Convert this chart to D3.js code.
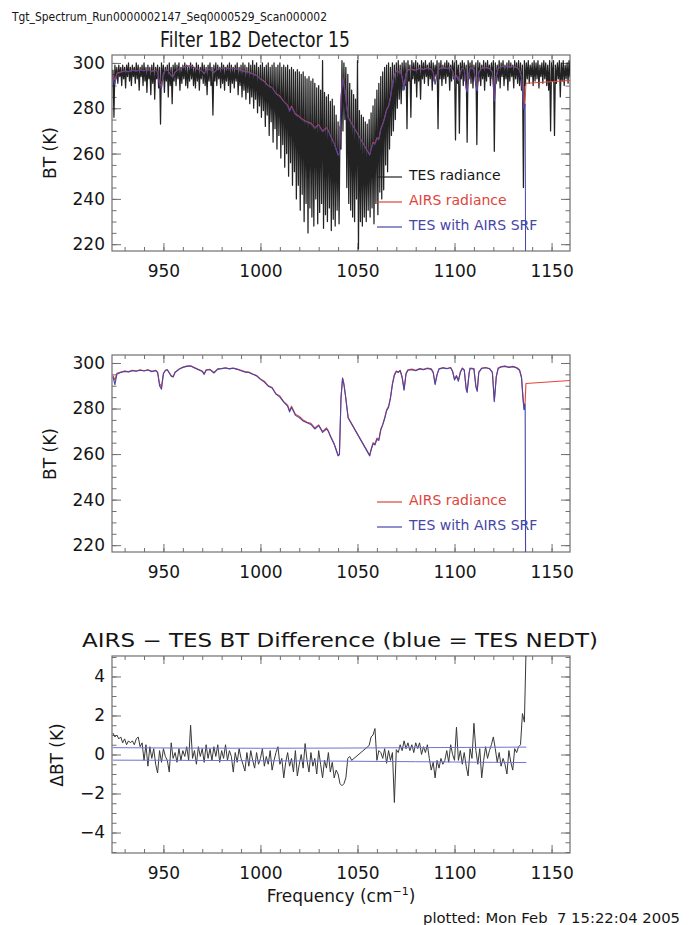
<!DOCTYPE html>
<html>
<head>
<meta charset="utf-8">
<script src="https://cdn.jsdelivr.net/npm/d3@7"></script>
<style>
  body { margin: 0; background: #fff; }
  text { font-family: "DejaVu Sans", sans-serif; fill: #151515; }
</style>
</head>
<body>
<svg id="chart"></svg>
<script>
// ---- data ----
// TES radiance (panel 1): upper / lower envelope per 1 cm-1 bin, starting at 924
let tesStart = 924;
let tesHi = [
  297, 299, 298, 299, 298, 299, 298, 299, 300, 298,
  299, 298, 300, 299, 298, 299, 300, 298, 299, 298,
  299, 300, 298, 299, 298, 300, 299, 298, 299, 300,
  298, 299, 300, 299, 300, 298, 299, 300, 299, 298,
  300, 299, 298, 300, 299, 298, 300, 299, 298, 299,
  300, 298, 299, 300, 299, 298, 300, 299, 298, 299,
  300, 299, 298, 299, 300, 298, 299, 300, 299, 298,
  300, 299, 301, 299, 300, 298, 299, 300, 298, 299,
  300, 298, 299, 300, 298, 299, 300, 298, 299, 298,
  299, 297, 298, 297, 296, 297, 296, 295, 296, 294,
  293, 294, 292, 293, 291, 289, 290, 288, 301, 287,
  285, 286, 283, 284, 281, 277, 274, 272, 301, 300,
  298, 295, 291, 288, 286, 284, 301, 279, 277, 276,
  274, 273, 275, 278, 281, 284, 288, 291, 294, 296,
  298, 299, 300, 298, 300, 299, 300, 301, 299, 300,
  301, 300, 301, 299, 301, 300, 301, 300, 299, 301,
  300, 301, 299, 300, 301, 300, 299, 301, 300, 301,
  299, 300, 301, 300, 299, 301, 300, 301, 299, 300,
  301, 300, 299, 301, 300, 301, 299, 300, 301, 300,
  299, 301, 300, 301, 299, 300, 301, 300, 299, 301,
  300, 301, 299, 300, 301, 300, 299, 301, 300, 301,
  300, 299, 301, 300, 301, 299, 300, 301, 300, 301,
  299, 300, 301, 300, 299, 301, 300, 301, 299, 300,
  301, 300, 301, 299, 300, 301, 300
];
let tesLo = [
  276, 293, 291, 294, 290, 293, 289, 294, 292, 290,
  294, 291, 293, 288, 294, 290, 292, 287, 293, 286,
  291, 284, 293, 289, 273, 292, 287, 292, 285, 290,
  282, 292, 290, 293, 288, 291, 293, 290, 289, 292,
  293, 290, 289, 292, 288, 293, 291, 290, 286, 292,
  290, 277, 292, 290, 293, 289, 291, 288, 292, 290,
  287, 291, 289, 292, 286, 290, 285, 288, 284, 287,
  282, 285, 280, 284, 278, 281, 276, 279, 272, 277,
  268, 274, 265, 271, 262, 268, 258, 264, 254, 260,
  250, 256, 246, 252, 240, 246, 235, 242, 230, 238,
  225, 236, 232, 228, 240, 229, 234, 238, 227, 233,
  230, 236, 226, 231, 228, 235, 229, 262, 270, 275,
  245, 238, 235, 232, 230, 240, 218, 230, 228, 232,
  230, 235, 232, 236, 229, 238, 233, 243, 240, 244,
  255, 252, 262, 268, 270, 275, 280, 284, 282, 288,
  290, 271, 292, 276, 293, 291, 285, 292, 284, 293,
  291, 294, 290, 293, 288, 292, 294, 271, 293, 290,
  293, 291, 294, 288, 292, 293, 266, 291, 269, 293,
  290, 292, 265, 293, 291, 289, 294, 264, 292, 290,
  293, 288, 292, 294, 290, 293, 261, 291, 292, 289,
  294, 290, 293, 288, 292, 294, 289, 293, 291, 290,
  288, 245, 290, 293, 291, 294, 290, 292, 293, 289,
  294, 291, 293, 290, 288, 270, 292, 268, 291, 293,
  285, 292, 290, 293, 291, 294, 292
];

// AIRS radiance and TES convolved with AIRS SRF (panels 1 and 2)
let airsFreq = [
  924, 925, 926, 928, 930, 932, 934, 936, 938, 940,
  942, 944, 946, 947, 948, 949, 950, 951, 952, 954,
  955, 956, 958, 960, 962, 964, 966, 968, 970, 971,
  972, 974, 976, 978, 980, 982, 984, 986, 988, 990,
  992, 994, 996, 998, 1000, 1002, 1004, 1006, 1008, 1010,
  1012, 1014, 1015, 1016, 1018, 1020, 1022, 1024, 1026, 1028,
  1030, 1032, 1034, 1035, 1036, 1038, 1039, 1040, 1040.7, 1041.5,
  1042.3, 1043, 1043.8, 1044.5, 1045.2, 1056.3, 1057, 1058, 1059, 1060,
  1061, 1062, 1063, 1064, 1065, 1066, 1067, 1068, 1069, 1070,
  1071, 1072, 1073, 1074, 1075, 1076, 1078, 1080, 1082, 1084,
  1086, 1088, 1089, 1090, 1091, 1092, 1094, 1096, 1098, 1099,
  1100, 1101, 1102, 1103, 1104, 1105, 1106, 1106.5, 1107.5, 1108,
  1110, 1111, 1111.7, 1112.5, 1114, 1116, 1118, 1119.5, 1120.5, 1121.5,
  1122.5, 1124, 1126, 1128, 1130, 1132, 1133.5, 1134.5, 1135.3, 1135.8,
  1136.4, 1136.8, 1160
];
let airsBT = [
  294.5, 292.5, 295.5, 296.0, 296.5, 296.2, 296.8, 296.5, 297.0, 296.6,
  297.0, 296.4, 296.8, 296.0, 291.0, 289.5, 295.5, 296.8, 297.0, 294.5,
  294.0, 296.0, 297.3, 298.2, 298.6, 298.8, 298.0, 297.2, 296.5, 295.2,
  297.0, 297.2, 295.8, 297.4, 297.6, 297.9, 297.5, 297.8, 297.3, 296.8,
  296.2, 296.0, 295.2, 294.5, 293.0, 292.0, 290.0, 289.2, 286.5, 285.5,
  283.0, 281.5, 279.0, 281.0, 277.5, 276.5, 275.0, 274.0, 273.5, 271.5,
  272.8, 270.0, 271.5, 270.2, 268.0, 264.5, 262.0, 259.5, 260.0, 285.0,
  293.5, 291.0, 286.0, 281.0, 276.0, 259.5, 262.0, 265.0, 264.5, 267.0,
  266.5, 271.0, 273.0, 276.0, 279.5, 281.0, 285.0, 291.0, 295.0, 296.5,
  296.0, 296.8, 294.0, 288.5, 295.5, 297.0, 297.3, 296.8, 297.6, 297.2,
  297.8, 297.4, 296.0, 291.0, 295.0, 297.5, 298.0, 297.6, 298.0, 296.5,
  293.0, 294.5, 292.5, 296.0, 297.8, 297.0, 289.0, 287.5, 295.5, 297.8,
  297.5, 290.0, 288.0, 296.0, 297.8, 298.0, 297.6, 296.0, 283.5, 294.0,
  297.8, 298.4, 298.6, 298.2, 298.5, 298.0, 297.0, 294.0, 285.0, 280.0,
  283.0, 291.0, 292.3
];
let srfBT = [
  294.0, 290.5, 295.0, 295.8, 296.3, 296.0, 296.6, 296.4, 296.8, 296.5,
  296.9, 296.2, 296.6, 295.8, 290.0, 288.5, 295.3, 296.7, 297.0, 294.2,
  293.8, 295.8, 297.2, 298.0, 298.5, 298.7, 297.8, 297.0, 296.3, 295.0,
  296.8, 297.1, 295.6, 297.3, 297.5, 297.8, 297.4, 297.7, 297.2, 296.6,
  296.0, 295.8, 295.0, 294.3, 292.8, 291.6, 289.8, 289.0, 286.3, 285.0,
  282.8, 281.0, 278.5, 280.5, 277.0, 276.0, 274.5, 273.8, 273.0, 271.0,
  272.5, 269.5, 271.0, 270.0, 267.8, 264.3, 261.8, 259.2, 259.8, 284.5,
  293.2, 290.5, 285.5, 280.5, 275.8, 259.2, 261.8, 264.5, 264.0, 266.5,
  266.0, 270.5, 272.8, 275.5, 279.0, 280.5, 284.5, 290.5, 294.5, 296.3,
  295.8, 296.6, 293.5, 288.0, 295.2, 296.8, 297.0, 296.6, 297.4, 297.0,
  297.6, 297.2, 295.8, 290.5, 294.8, 297.3, 297.8, 297.5, 297.9, 296.2,
  292.5, 294.2, 292.0, 295.8, 297.6, 296.8, 288.5, 287.0, 295.2, 297.6,
  297.3, 289.5, 287.5, 295.8, 297.6, 297.9, 297.5, 295.8, 283.0, 293.8,
  297.6, 298.2, 298.5, 298.0, 298.4, 297.8, 296.8, 293.5, 284.0, 279.5,
  282.0, 150, null
];

// AIRS - TES BT difference (panel 3), 1 cm-1 steps, two runs with a gap
let diffStartA = 924;
let diffA = [
  1.1, 0.9, 1.0, 0.8, 0.9, 0.6, 0.8, 0.5, 0.7, 0.6,
  0.7, 0.5, 0.8, 0.9, 0.4, 0.6, -0.3, 0.5, -0.6, 0.4,
  -0.2, 0.3, -0.5, -0.95, 0.2, -0.4, 0.3, -0.1, -0.3, -0.9,
  0.6, -0.2, 0.1, -0.4, 0.3, -0.3, 0.2, -0.1, 0.4, -0.3,
  1.5, -0.2, 0.2, -0.5, 0.4, -0.1, 0.3, -0.4, 0.5, -0.2,
  0.3, -0.3, 0.4, -0.1, 0.5, -0.4, 0.2, -0.2, 0.5, -0.3,
  0.2, -0.1, -0.9, 0.1, -0.4, 0.3, -0.2, -0.5, -0.85, 0.1,
  -0.6, 0.2, -0.3, -0.7, 0.1, -0.5, -0.2, 0.3, -0.6, -0.1,
  -0.5, 0.2, -0.8, -0.3, 0.1, 0.4, -0.5, -0.2, -1.2, -0.4,
  0.1, -0.6, -0.2, -0.9, 0.2, -1.1, -0.5, 0.0, -0.7, 0.56,
  -0.3, -0.9, 0.1, -0.6, -0.2, -1.0, 0.2, -0.5, -1.2, -0.3,
  -0.7, 0.1, -0.9, -0.4, -1.2, -0.8, -1.0, -1.5, -1.6, -1.5,
  -1.2, -0.2, -0.1, -0.3
];
let diffStartB = 1056;
let diffB = [
  0.46, 0.9, 1.0, 1.33, -0.3, 0.2, 0.1, -0.2, 0.3, -0.45,
  0.2, -0.3, 0.1, -2.46, 0.25, 0.1, 0.5, 0.2, 0.7, 0.3,
  0.6, 0.2, 0.5, 0.1, 0.6, 0.3, 0.6, 0.0, 0.4, 0.1,
  0.5, -0.2, -0.8, -0.4, -1.2, -0.3, -0.7, -0.2, -0.5, -0.3,
  0.2, -0.4, 0.5, 0.0, -0.3, 1.4, -0.3, 0.2, -0.5, 0.1,
  -0.6, -1.1, 0.3, -0.2, 1.6, 0.2, -0.5, 0.3, -1.2, -0.3,
  0.4, -0.2, 0.2, 0.5, 0.9, 0.3, -0.4, 0.1, -0.6, -0.2,
  -0.5, -1.0, 0.2, -0.4, -0.8, 0.3, 0.1, 0.4, 0.5, 2.1,
  1.66, 6
];

// TES NEDT (+/-), blue lines in panel 3
let nedtFreq = [924, 960, 1000, 1040, 1080, 1120, 1137];
let nedtUp = [0.35, 0.33, 0.32, 0.33, 0.35, 0.37, 0.38];
let nedtDown = [-0.29, -0.3, -0.32, -0.34, -0.37, -0.4, -0.41];

// tick values
let xMajor = [950, 1000, 1050, 1100, 1150];
let xMinor = d3.range(930, 1160, 10);
let btMajor = [220, 240, 260, 280, 300];
let btMinor = d3.range(220, 301, 5);
let dMajor = [-4, -2, 0, 2, 4];
let dMinor = d3.range(-5, 5.01, 0.5);

// ---- layout ----
let width = 697, height = 925;
let left = 112, right = 570;
let frameColor = '#707070';
let tesColor = '#222222', airsColor = '#e0443a', srfColor = '#4646a8', nedtColor = '#7070d8';

let svg = d3.select('#chart').attr('width', width).attr('height', height);

let xScale = d3.scaleLinear().domain([923.5, 1159.5]).range([left, right]);
let y1 = d3.scaleLinear().domain([217, 303.5]).range([251, 55]);
let y2 = d3.scaleLinear().domain([217, 303.5]).range([552, 355]);
let y3 = d3.scaleLinear().domain([-5.05, 5.05]).range([853, 656]);

// one axis side, ticks pointing into the plot
let addAxis = (axis, tx, ty, values, len, labels, pad) => {
    let g = svg.append('g')
        .attr('transform', `translate(${tx},${ty})`)
        .call(axis.tickValues(values).tickSizeInner(-len).tickSizeOuter(0)
            .tickPadding(pad || 0).tickFormat(labels ? d3.format('d') : ''));
    g.select('.domain').remove();
    g.attr('color', frameColor).attr('font-family', null).attr('font-size', null);
    g.selectAll('line').attr('stroke-width', 1);
    g.selectAll('text').style('font-size', '17px').attr('fill', '#151515');
};

// frame, ticks on all four sides, labels bottom and left
let drawFrame = (y, majorY, minorY, id) => {
    let [bottom, top] = y.range();
    svg.append('clipPath').attr('id', id)
        .append('rect').attr('x', left).attr('y', top)
        .attr('width', right - left).attr('height', bottom - top);

    addAxis(d3.axisBottom(xScale), 0, bottom, xMinor, 4, false);
    addAxis(d3.axisBottom(xScale), 0, bottom, xMajor, 8, true, 14);
    addAxis(d3.axisTop(xScale), 0, top, xMinor, 4, false);
    addAxis(d3.axisTop(xScale), 0, top, xMajor, 8, false);
    addAxis(d3.axisLeft(y), left, 0, minorY, 4.5, false);
    addAxis(d3.axisLeft(y), left, 0, majorY, 9, true, 7);
    addAxis(d3.axisRight(y), right, 0, minorY, 4.5, false);
    addAxis(d3.axisRight(y), right, 0, majorY, 9, false);

    svg.append('rect')
        .attr('x', left).attr('y', top)
        .attr('width', right - left).attr('height', bottom - top)
        .attr('fill', 'none').attr('stroke', frameColor).attr('stroke-width', 1.2);
};

let drawLine = (id, pts, color, w) => {
    svg.append('path')
        .datum(pts)
        .attr('clip-path', `url(#${id})`)
        .attr('fill', 'none')
        .attr('stroke', color)
        .attr('stroke-width', w)
        .attr('stroke-linejoin', 'round')
        .attr('d', d3.line().defined((d) => d[1] !== null)
            .x((d) => xScale(d[0])).y((d) => d[2](d[1])));
};

let yTitle = (label, x, yMid) => {
    svg.append('text')
        .attr('transform', `translate(${x},${yMid}) rotate(-90)`)
        .attr('text-anchor', 'middle')
        .style('font-size', '17px')
        .text(label);
};

let legend = (rows, x, y0) => {
    rows.forEach((r, i) => {
        let yy = y0 + i * 25;
        svg.append('line')
            .attr('x1', x).attr('x2', x + 25).attr('y1', yy - 3).attr('y2', yy - 3)
            .attr('stroke', r[1]).attr('stroke-width', 1.2);
        svg.append('text')
            .attr('x', x + 32).attr('y', yy)
            .style('font-size', '14px')
            .style('fill', r[2])
            .text(r[0]);
    });
};

// ---- headers ----
svg.append('text')
    .attr('x', 12).attr('y', 21)
    .style('font-size', '12.5px')
    .attr('textLength', 315).attr('lengthAdjust', 'spacingAndGlyphs')
    .text('Tgt_Spectrum_Run0000002147_Seq0000529_Scan000002');
svg.append('text')
    .attr('x', 160).attr('y', 47)
    .style('font-size', '20.5px')
    .attr('textLength', 190).attr('lengthAdjust', 'spacingAndGlyphs')
    .text('Filter 1B2 Detector 15');

// ---- panel 1 ----
drawFrame(y1, btMajor, btMinor, 'clip1');
// hi/lo pairs drawn as one zig-zag trace, like the dense TES spectrum
let tesPts = tesHi.flatMap((h, i) => [[tesStart + i, h, y1], [tesStart + i + 0.5, tesLo[i], y1]]);
drawLine('clip1', tesPts, tesColor, 1.25);
drawLine('clip1', airsFreq.map((f, i) => [f, airsBT[i], y1]), airsColor, 1);
drawLine('clip1', airsFreq.map((f, i) => [f, srfBT[i], y1]), srfColor, 1);
yTitle('BT (K)', 56, 153);
legend([['TES radiance', tesColor, '#151515'], ['AIRS radiance', airsColor, airsColor],
        ['TES with AIRS SRF', srfColor, srfColor]], 377, 180);

// ---- panel 2 ----
drawFrame(y2, btMajor, btMinor, 'clip2');
drawLine('clip2', airsFreq.map((f, i) => [f, airsBT[i], y2]), airsColor, 1.1);
drawLine('clip2', airsFreq.map((f, i) => [f, srfBT[i], y2]), srfColor, 1.1);
yTitle('BT (K)', 56, 454);
legend([['AIRS radiance', airsColor, airsColor], ['TES with AIRS SRF', srfColor, srfColor]], 377, 505);

// ---- panel 3 ----
svg.append('text')
    .attr('x', 82).attr('y', 647)
    .style('font-size', '19px')
    .attr('textLength', 516).attr('lengthAdjust', 'spacingAndGlyphs')
    .text('AIRS \u2212 TES BT Difference (blue = TES NEDT)');
drawFrame(y3, dMajor, dMinor, 'clip3');
let diffPts = diffA.map((v, i) => [diffStartA + i, v, y3])
    .concat(diffB.map((v, i) => [diffStartB + i, v, y3]));
drawLine('clip3', diffPts, '#383838', 1);
drawLine('clip3', nedtFreq.map((f, i) => [f, nedtUp[i], y3]), nedtColor, 1);
drawLine('clip3', nedtFreq.map((f, i) => [f, nedtDown[i], y3]), nedtColor, 1);
yTitle('\u0394BT (K)', 63, 755);

let xt = svg.append('text')
    .attr('x', 341).attr('y', 902)
    .attr('text-anchor', 'middle')
    .style('font-size', '17px');
xt.append('tspan').text('Frequency (cm');
xt.append('tspan').attr('dy', -7).style('font-size', '11px').text('\u22121');
xt.append('tspan').attr('dy', 7).text(')');

svg.append('text')
    .attr('x', 423).attr('y', 923)
    .style('font-size', '14px')
    .style('white-space', 'pre')
    .attr('textLength', 257).attr('lengthAdjust', 'spacingAndGlyphs')
    .text('plotted: Mon Feb  7 15:22:04 2005');
</script>
</body>
</html>
